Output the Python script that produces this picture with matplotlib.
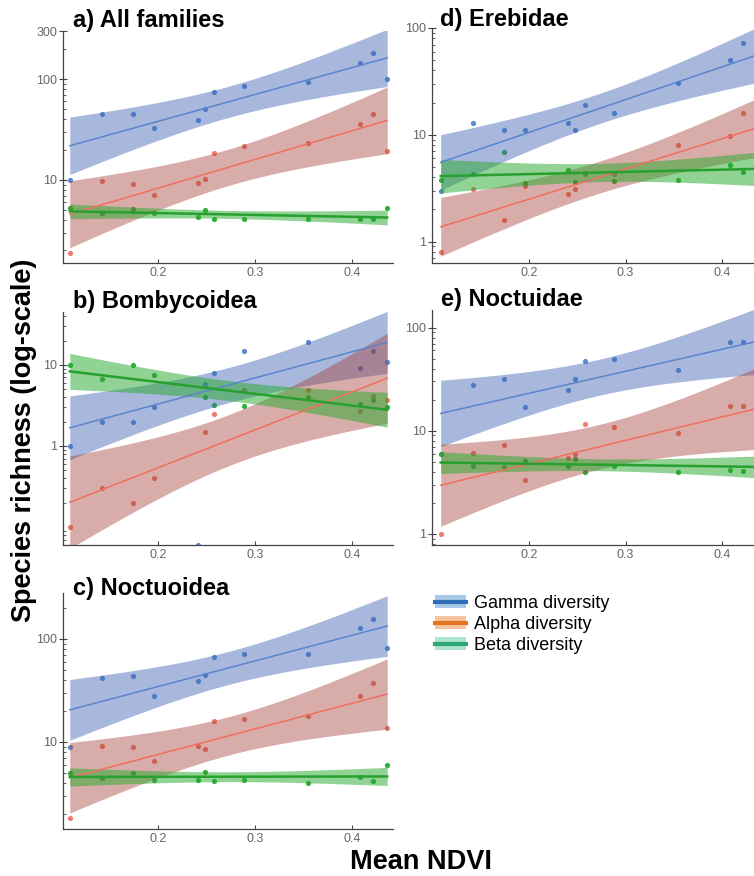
import numpy as np
import matplotlib
matplotlib.use("Agg")
import matplotlib.pyplot as plt
from matplotlib.patches import Patch
from matplotlib.lines import Line2D
from matplotlib.legend_handler import HandlerTuple
from matplotlib.ticker import LogLocator, NullFormatter

plt.rcParams['font.family'] = ['Liberation Sans', 'DejaVu Sans']

# mean NDVI of the 12 sites
ndvi = [0.109, 0.142, 0.174, 0.196, 0.241, 0.248, 0.258, 0.288, 0.354, 0.408, 0.421, 0.436]

# species richness per panel (gamma, alpha, beta)
a_gamma = [10, 45, 45, 32.5, 39, 50, 75, 86, 93, 146, 181, 100]
a_alpha = [1.9, 9.8, 9.1, 7.1, 9.3, 10.2, 18.5, 21.5, 23, 36, 45, 19.4]
a_beta = [5.3, 4.7, 5.1, 4.7, 4.3, 5.0, 4.1, 4.1, 4.1, 4.1, 4.1, 5.25]

b_gamma = [1, 2, 2, 3, 0, 5.9, 8, 15, 19, 9.1, 15, 11]
b_alpha = [0.1, 0.3, 0.2, 0.4, np.nan, 1.5, 2.5, 4.9, 4.9, 2.7, 4.1, 3.7]
b_beta = [10, 6.7, 10, 7.5, np.nan, 4.0, 3.2, 3.1, 4.0, 3.3, 3.7, 3.0]

c_gamma = [9.0, 41.5, 43.5, 28, 39, 45, 67, 71, 71, 127, 155, 81]
c_alpha = [1.8, 9.2, 8.9, 6.5, 9.2, 8.6, 16, 16.5, 18, 28, 37, 13.6]
c_beta = [5.0, 4.4, 5.0, 4.3, 4.3, 5.1, 4.2, 4.3, 4.0, 4.5, 4.2, 6.0]

d_gamma = [3.0, 13, 11, 11, 13, 11, 19, 16, 30.5, 50, 73, 39]
d_alpha = [0.8, 3.1, 1.6, 3.3, 2.8, 3.1, 4.3, 4.3, 8.1, 9.8, 16, 6.5]
d_beta = [3.8, 4.3, 6.9, 3.5, 4.7, 3.6, 4.4, 3.7, 3.8, 5.2, 4.5, 6.0]

e_gamma = [5.9, 28, 32, 17, 25, 32, 47, 50, 39, 73, 72, 48]
e_alpha = [1.0, 6.1, 7.2, 3.3, 5.4, 6.0, 11.5, 10.9, 9.6, 17.4, 17.4, 8]
e_beta = [5.9, 4.5, 4.4, 5.1, 4.6, 5.3, 4.0, 4.6, 4.0, 4.2, 4.1, 6.0]

titles = ["a) All families", "b) Bombycoidea", "c) Noctuoidea", "d) Erebidae", "e) Noctuidae"]
yticks = [[10, 100, 300], [1, 10], [10, 100], [1, 10, 100], [1, 10, 100]]
ylims = [(1.5, 300), (0.06, 45), (1.42, 280), (0.63, 100), (0.78, 148)]
xticks = [0.2, 0.3, 0.4]
legend_labels = ["Gamma diversity", "Alpha diversity", "Beta diversity"]

panels = [(a_gamma, a_alpha, a_beta), (b_gamma, b_alpha, b_beta), (c_gamma, c_alpha, c_beta),
          (d_gamma, d_alpha, d_beta), (e_gamma, e_alpha, e_beta)]

W, H = 754, 876
fig = plt.figure(figsize=(W / 100, H / 100), dpi=100)


def box(l, t, r, b):
    return [l / W, 1 - b / H, (r - l) / W, (b - t) / H]


boxes = [box(63, 31, 393, 263), box(63, 312, 393, 545), box(63, 593, 393, 829),
         box(432, 28, 761, 263), box(432, 310, 761, 545)]
xlims = [(0.102, 0.442)] * 3 + [(0.1, 0.44)] * 2
title_pos = [(73, 27.5), (73, 308), (73, 595), (440, 26), (441, 306)]

pt_col = ['#5b8bd0', '#ef7b6c', '#2fae3a']
line_col = ['#5a84cc', '#f06e5e', '#27a030']
band_col = ['#3e62b4', '#a43c33', '#25a92d']
band_alpha = [0.45, 0.42, 0.5]
line_w = [1.1, 1.1, 1.8]
# two-sided 99% t quantiles
t99 = {9: 3.250, 10: 3.169}

for k, (series, bx) in enumerate(zip(panels, boxes)):
    ax = fig.add_axes(bx)
    ax.set_yscale('log')
    ax.set_ylim(*ylims[k])
    ax.set_xlim(*xlims[k])
    for j, ys in enumerate(series):
        x = np.array(ndvi)
        y = np.array(ys, dtype=float)
        zero = y == 0
        ax.scatter(x[~zero], y[~zero], s=14, color=pt_col[j], zorder=1, linewidths=0)
        if zero.any():
            # zero richness sits on the bottom of the log axis
            ax.scatter(x[zero], np.full(zero.sum(), ylims[k][0]), s=14, color=pt_col[j],
                       linewidths=0, zorder=1)
        ok = np.isfinite(y) & (y > 0)
        xf, ly = x[ok], np.log10(y[ok])
        n = len(xf)
        slope, icpt = np.polyfit(xf, ly, 1)
        resid = ly - (icpt + slope * xf)
        s = np.sqrt(np.sum(resid ** 2) / (n - 2))
        xs = np.linspace(xf.min(), xf.max(), 60)
        fit = icpt + slope * xs
        se = s * np.sqrt(1 / n + (xs - xf.mean()) ** 2 / np.sum((xf - xf.mean()) ** 2))
        ax.fill_between(xs, 10 ** (fit - t99[n - 2] * se), 10 ** (fit + t99[n - 2] * se),
                        color=band_col[j], alpha=band_alpha[j], linewidth=0, zorder=2)
        ax.plot(xs, 10 ** fit, color=line_col[j], lw=line_w[j], zorder=3)

    ax.set_yticks(yticks[k])
    ax.set_yticklabels([str(v) for v in yticks[k]])
    ax.yaxis.set_minor_locator(LogLocator(base=10, subs=np.arange(2, 10)))
    ax.yaxis.set_minor_formatter(NullFormatter())
    ax.set_xticks(xticks)
    ax.set_xticklabels([str(v) for v in xticks])
    for side in ['top', 'right']:
        ax.spines[side].set_visible(False)
    for side in ['left', 'bottom']:
        ax.spines[side].set_color('#444444')
        ax.spines[side].set_linewidth(0.9)
    ax.tick_params(axis='y', which='major', direction='inout', length=6, width=0.8,
                   color='#444444', labelcolor='#666666', labelsize=9, pad=1)
    ax.tick_params(axis='y', which='minor', direction='in', length=2.5, width=0.6, color='#444444')
    ax.tick_params(axis='x', which='major', direction='in', length=3, width=0.8,
                   color='#444444', labelcolor='#666666', labelsize=9, pad=3)
    ax.tick_params(axis='x', which='minor', bottom=False)
    ax.patch.set_alpha(0)
    tx, ty = title_pos[k]
    fig.text(tx / W, 1 - ty / H, titles[k], fontsize=17, fontweight='bold', va='baseline')

fig.text(24 / W, 1 - 440 / H, "Species richness (log-scale)", rotation=90, fontsize=19.5,
         fontweight='bold', ha='center', va='center')
fig.text(421 / W, 1 - 862 / H, "Mean NDVI", fontsize=19.5, fontweight='bold', ha='center', va='center')

leg_line = ['#2c6fb7', '#e8731f', '#2ea67a']
leg_patch = ['#a8c8e8', '#f7c4a0', '#aee3cd']
handles = [(Patch(facecolor=leg_patch[i], edgecolor='none'), Line2D([], [], color=leg_line[i], lw=3))
           for i in range(3)]
fig.legend(handles, legend_labels, loc='upper left', bbox_to_anchor=(435 / W, 1 - 595 / H),
           frameon=False, borderpad=0, borderaxespad=0, fontsize=13, handlelength=1.7,
           handletextpad=0.45, labelspacing=0.22,
           handler_map={tuple: HandlerTuple(ndivide=1, pad=0)})

fig.savefig("out.png", dpi=100)
